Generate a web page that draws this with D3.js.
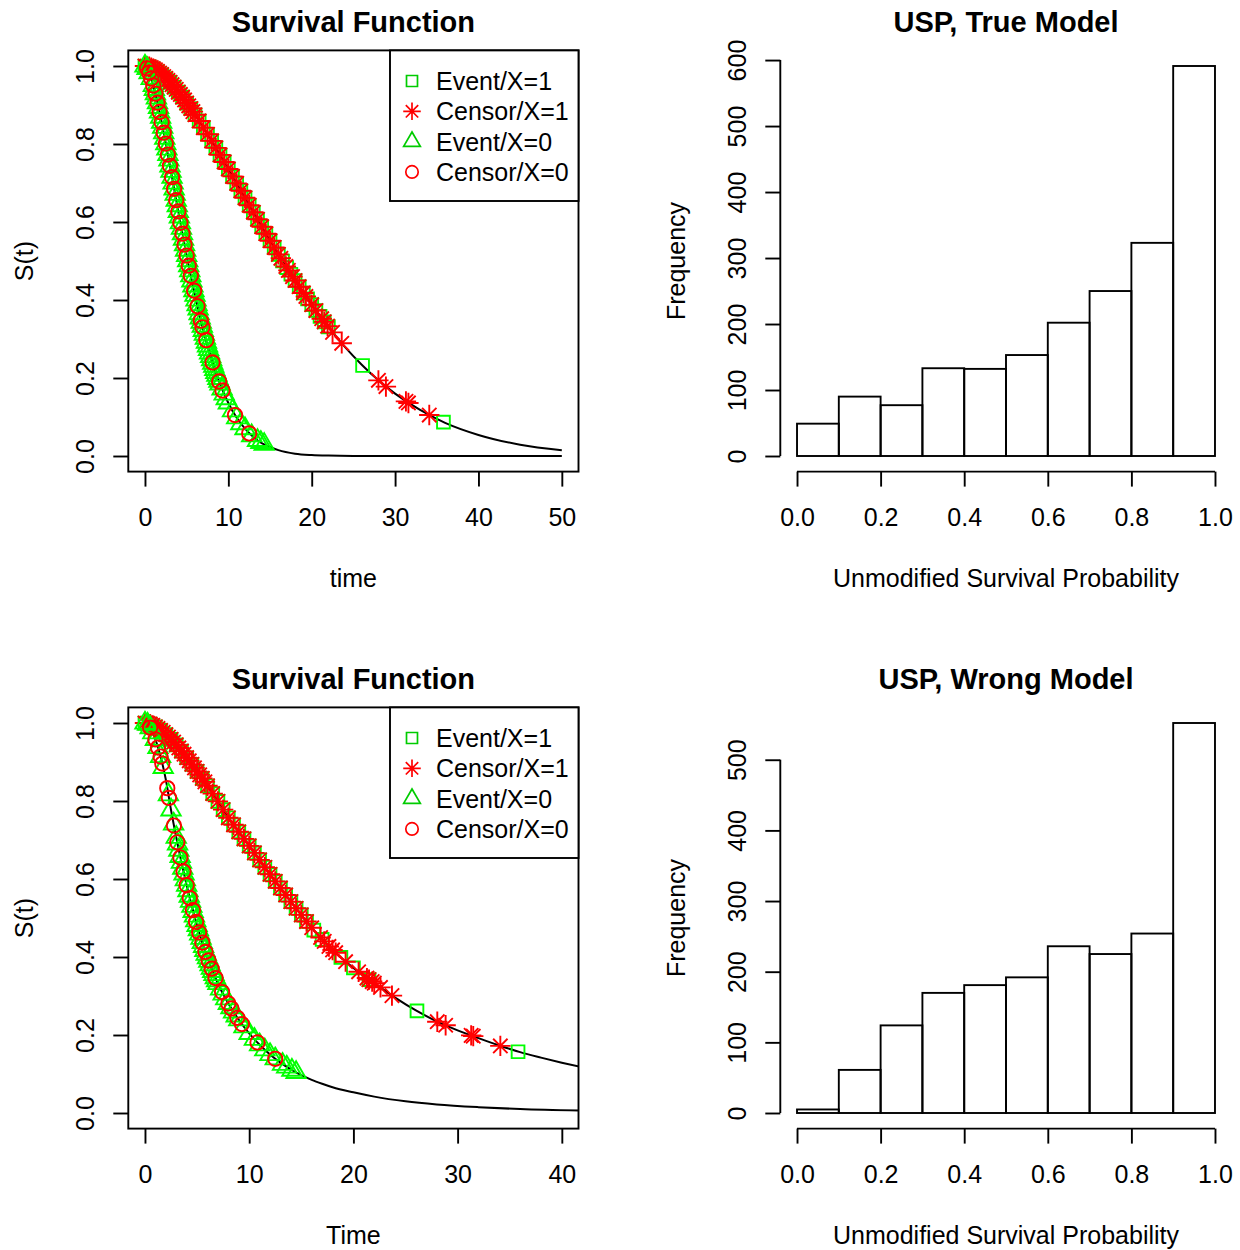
<!DOCTYPE html>
<html>
<head>
<meta charset="utf-8">
<script src="https://cdn.jsdelivr.net/npm/d3@7"></script>
<style>
  body { margin: 0; background: #fff; }
  svg { display: block; font-family: "Liberation Sans", Arial, sans-serif; }
</style>
</head>
<body>
<svg id="chart" width="1240" height="1250"></svg>
<script>
// ---- survival curves, [time, S(t)] ----
const curveTopX1 = [[0,1],[2,0.978],[4,0.933],[6,0.875],[8,0.808],[10,0.736],[12,0.662],[14,0.588],[16,0.517],[18,0.450],[20,0.388],[22,0.331],[24,0.279],[26,0.234],[28,0.194],[30,0.160],[33,0.118],[36,0.085],[40,0.054],[45,0.029],[50,0.015]];
const curveTopX0 = [[0,1],[0.5,0.983],[1,0.950],[1.5,0.906],[2,0.856],[2.5,0.801],[3,0.744],[3.5,0.685],[4,0.627],[5,0.514],[6,0.412],[7,0.322],[8,0.247],[9,0.185],[10,0.136],[11,0.098],[12,0.070],[13,0.049],[14,0.033],[15,0.023],[16,0.015],[18,0.006],[20,0.0025],[22,0.001],[25,0.0002],[30,0],[40,0],[50,0]];
const curveBotX1 = [[0,1],[1,0.990],[2,0.970],[3,0.944],[4,0.911],[5,0.876],[6,0.839],[7,0.799],[8,0.757],[9,0.721],[10,0.685],[11,0.649],[12,0.612],[13,0.577],[14,0.542],[15,0.508],[16,0.475],[17,0.445],[18,0.418],[19,0.394],[20,0.372],[22,0.333],[24,0.296],[26,0.263],[28,0.235],[30,0.212],[32,0.192],[34,0.173],[36,0.156],[38,0.142],[40,0.129],[42,0.117]];
const curveBotX0 = [[0,1],[0.5,0.988],[1,0.958],[1.5,0.914],[2,0.855],[2.5,0.777],[3,0.707],[3.5,0.643],[4,0.584],[4.5,0.530],[5,0.481],[5.5,0.437],[6,0.398],[6.5,0.363],[7,0.332],[7.5,0.305],[8,0.281],[9,0.239],[10,0.204],[11,0.175],[12,0.150],[13,0.129],[14,0.112],[15,0.097],[16,0.085],[17,0.075],[18,0.066],[20,0.053],[22,0.042],[25,0.030],[28,0.022],[32,0.015],[36,0.010],[42,0.006]];

// ---- observations, [time, S(time)] ----
const eventX1Top = [[0,1],[0.5,0.998],[1,0.993],[1.5,0.986],[2,0.978],[2.5,0.968],[3,0.958],[3.5,0.946],[4,0.933],[4.5,0.920],[5,0.905],[5.5,0.891],[6,0.875],[6.5,0.859],[7,0.842],[7.5,0.825],[8,0.808],[8.5,0.790],[9,0.772],[9.5,0.754],[10,0.736],[10.5,0.717],[11,0.699],[11.5,0.680],[12,0.662],[12.5,0.643],[13,0.625],[13.5,0.607],[14,0.588],[14.5,0.570],[15,0.552],[15.5,0.535],[16,0.517],[16.5,0.500],[17,0.483],[17.5,0.466],[18,0.450],[18.5,0.434],[19,0.418],[19.5,0.403],[20,0.388],[20.5,0.373],[21,0.358],[21.5,0.344],[22,0.331],[26.1,0.232],[35.8,0.087]];
const censorX1Top = [[0,1],[0.25,0.999],[0.5,0.998],[0.75,0.996],[1,0.993],[1.25,0.990],[1.5,0.986],[1.75,0.982],[2,0.978],[2.25,0.973],[2.5,0.968],[2.75,0.963],[3,0.958],[3.25,0.952],[3.5,0.946],[3.75,0.940],[4,0.933],[4.25,0.927],[4.5,0.920],[4.75,0.913],[5,0.905],[5.25,0.898],[5.5,0.891],[5.75,0.883],[6,0.875],[6.5,0.859],[7,0.842],[7.5,0.825],[8,0.808],[8.5,0.790],[9,0.772],[9.5,0.754],[10,0.736],[10.5,0.717],[11,0.699],[11.5,0.680],[12,0.662],[12.5,0.643],[13,0.625],[13.5,0.607],[14,0.588],[14.5,0.570],[15,0.552],[15.5,0.535],[16,0.517],[16.3,0.507],[16.9,0.486],[17.2,0.476],[17.7,0.460],[18.0,0.450],[18.5,0.434],[19.0,0.418],[19.3,0.409],[20.0,0.388],[20.5,0.373],[21.2,0.352],[21.5,0.344],[21.9,0.333],[22.5,0.317],[23.6,0.289],[28.0,0.194],[28.9,0.178],[31.3,0.140],[31.6,0.136],[34.1,0.105]];
const eventX0Top = [[0,1],[0.25,0.994],[0.5,0.983],[0.75,0.968],[1,0.950],[1.125,0.940],[1.25,0.929],[1.375,0.918],[1.5,0.906],[1.625,0.894],[1.75,0.882],[1.875,0.869],[2,0.856],[2.125,0.843],[2.25,0.829],[2.375,0.815],[2.5,0.801],[2.625,0.787],[2.75,0.773],[2.875,0.759],[3,0.744],[3.125,0.730],[3.25,0.715],[3.375,0.700],[3.5,0.685],[3.625,0.671],[3.75,0.656],[3.875,0.642],[4,0.627],[4.125,0.613],[4.25,0.598],[4.375,0.584],[4.5,0.570],[4.625,0.556],[4.75,0.542],[4.875,0.528],[5,0.514],[5.125,0.501],[5.25,0.488],[5.375,0.475],[5.5,0.462],[5.625,0.449],[5.75,0.436],[5.875,0.424],[6,0.412],[6.125,0.400],[6.25,0.388],[6.375,0.377],[6.5,0.365],[6.625,0.354],[6.75,0.343],[6.875,0.333],[7,0.322],[7.125,0.312],[7.25,0.302],[7.375,0.292],[7.5,0.282],[7.625,0.273],[7.75,0.264],[7.875,0.255],[8,0.247],[8.125,0.238],[8.25,0.230],[8.375,0.222],[8.5,0.214],[8.625,0.207],[8.75,0.199],[8.875,0.192],[9,0.185],[9.25,0.172],[9.5,0.159],[9.75,0.147],[10,0.136],[10.5,0.116],[11,0.098],[11.5,0.083],[12,0.070],[12.8,0.052],[13.5,0.040],[13.9,0.035],[14.3,0.030]];
const censorX0Top = [[0.25,0.994],[0.5,0.983],[0.75,0.968],[1,0.950],[1.25,0.929],[1.5,0.906],[1.75,0.882],[2,0.856],[2.25,0.829],[2.5,0.801],[2.75,0.773],[3,0.744],[3.25,0.715],[3.5,0.685],[3.75,0.656],[4,0.627],[4.25,0.598],[4.5,0.570],[4.75,0.542],[5,0.514],[5.25,0.488],[5.5,0.462],[5.9,0.424],[6.3,0.384],[6.7,0.347],[6.9,0.330],[7.35,0.297],[8.1,0.240],[8.9,0.191],[9.3,0.168],[10.8,0.105],[12.5,0.058]];

const eventX1Bot = [[0,1],[0.5,0.997],[1,0.990],[1.5,0.981],[2,0.970],[2.5,0.958],[3,0.944],[3.5,0.928],[4,0.911],[4.5,0.894],[5,0.876],[5.5,0.858],[6,0.839],[6.5,0.819],[7,0.799],[7.5,0.778],[8,0.757],[8.5,0.739],[9,0.721],[9.5,0.703],[10,0.685],[10.5,0.667],[11,0.649],[11.5,0.630],[12,0.612],[12.5,0.594],[13,0.577],[13.5,0.559],[14,0.542],[14.5,0.525],[15,0.508],[15.5,0.491],[16.2,0.469],[17,0.445],[18.8,0.399],[20,0.372],[21.5,0.342],[26.1,0.262],[35.8,0.157]];
const censorX1Bot = [[0,1],[0.25,0.999],[0.5,0.997],[0.75,0.994],[1,0.990],[1.25,0.986],[1.5,0.981],[1.75,0.976],[2,0.970],[2.25,0.964],[2.5,0.958],[2.75,0.951],[3,0.944],[3.25,0.936],[3.5,0.928],[3.75,0.920],[4,0.911],[4.25,0.903],[4.5,0.894],[4.75,0.885],[5,0.876],[5.25,0.867],[5.5,0.858],[5.75,0.849],[6,0.839],[6.5,0.819],[7,0.799],[7.5,0.778],[8,0.757],[8.5,0.739],[9,0.721],[9.5,0.703],[10,0.685],[10.5,0.667],[11,0.649],[11.5,0.630],[12,0.612],[12.5,0.594],[13,0.577],[13.5,0.559],[14,0.542],[14.5,0.525],[15,0.508],[15.5,0.491],[16,0.475],[16.85,0.450],[17.2,0.440],[17.65,0.427],[18.0,0.418],[18.3,0.411],[19.25,0.388],[20.5,0.362],[21.3,0.346],[21.5,0.342],[21.8,0.337],[22.0,0.333],[22.6,0.322],[23.7,0.301],[28.05,0.234],[28.85,0.225],[31.3,0.199],[31.5,0.197],[34.1,0.172]];
const eventX0Bot = [[0,1],[0.25,0.997],[0.5,0.988],[0.75,0.975],[1,0.958],[1.25,0.937],[1.5,0.914],[1.75,0.886],[2.25,0.816],[2.5,0.777],[2.75,0.741],[3,0.707],[3.125,0.690],[3.25,0.674],[3.375,0.658],[3.5,0.643],[3.625,0.628],[3.75,0.613],[3.875,0.598],[4,0.584],[4.125,0.570],[4.25,0.556],[4.375,0.543],[4.5,0.530],[4.625,0.517],[4.75,0.505],[4.875,0.493],[5,0.481],[5.125,0.470],[5.25,0.459],[5.375,0.448],[5.5,0.437],[5.625,0.427],[5.75,0.417],[5.875,0.407],[6,0.398],[6.125,0.389],[6.25,0.380],[6.375,0.371],[6.5,0.363],[6.625,0.355],[6.75,0.347],[6.875,0.339],[7,0.332],[7.25,0.318],[7.5,0.305],[7.75,0.293],[8,0.281],[8.25,0.270],[8.5,0.259],[8.75,0.249],[9,0.239],[9.5,0.221],[10,0.204],[10.5,0.189],[11,0.175],[11.5,0.162],[12,0.150],[12.5,0.139],[13.2,0.125],[13.6,0.118],[14.1,0.110],[14.5,0.104]];
const censorX0Bot = [[0.5,0.988],[1.0,0.958],[1.25,0.937],[1.5,0.914],[1.66,0.896],[2.14,0.833],[2.3,0.808],[2.78,0.737],[3.1,0.694],[3.4,0.655],[3.7,0.619],[4.0,0.584],[4.3,0.551],[4.6,0.520],[4.9,0.490],[5.2,0.463],[5.5,0.437],[5.8,0.413],[6.1,0.391],[6.4,0.370],[6.77,0.346],[7.4,0.310],[8.0,0.281],[8.3,0.268],[8.86,0.244],[9.3,0.228],[10.8,0.181],[12.5,0.139]];

// ---- histograms of unmodified survival probability ----
const binStarts = [0, 0.1, 0.2, 0.3, 0.4, 0.5, 0.6, 0.7, 0.8, 0.9];
const countsTrue = [49, 90, 77, 133, 132, 153, 202, 250, 323, 591];
const countsWrong = [5, 61, 124, 170, 181, 192, 236, 225, 254, 552];

const survTicksY = [0, 0.2, 0.4, 0.6, 0.8, 1.0];
const histTicksX = [0, 0.2, 0.4, 0.6, 0.8, 1.0];
const legendLabels = ["Event/X=1", "Censor/X=1", "Event/X=0", "Censor/X=0"];

const svg = d3.select("#chart");
const LW = 1.9;
const ROW_SHIFT = 657;
const PLOT_TOP = 50.4, PLOT_BOTTOM = 471.6;
const PT = 7.2;

function symbolPath(type, u) {
    if (type === "square") {
        const h = u * 0.886;
        return `M${-h},${-h}H${h}V${h}H${-h}Z`;
    }
    if (type === "triangle") {
        const r = 1.555 * u, xc = 1.347 * u, yc = 0.778 * u;
        return `M0,${-r}L${xc},${yc}L${-xc},${yc}Z`;
    }
    if (type === "star") {
        const p = u * Math.SQRT2;
        return `M${-u},${-u}L${u},${u}M${-u},${u}L${u},${-u}M${-p},0L${p},0M0,${-p}L0,${p}`;
    }
    return `M${u},0A${u},${u} 0 1,1 ${-u},0A${u},${u} 0 1,1 ${u},0Z`;
}

function styleAxis(g) {
    g.attr("font-size", 25)
        .attr("font-family", '"Liberation Sans", Arial, sans-serif');
    g.selectAll("line").attr("stroke", "#000").attr("stroke-width", LW);
    g.selectAll("text").attr("fill", "#000");
}

function rotateYLabels(g) {
    g.selectAll("text")
        .attr("transform", "rotate(-90)")
        .attr("x", 0)
        .attr("y", -34.3)
        .attr("dy", null)
        .attr("text-anchor", "middle");
}

function drawSurvival(idx, cfg) {
    const dy = idx * ROW_SHIFT;
    const left = 128.3, right = 578.5;
    const top = PLOT_TOP + dy, bottom = PLOT_BOTTOM + dy;
    const xMax = cfg.xTicks[cfg.xTicks.length - 1];

    const sx = d3.scaleLinear().domain([-0.04 * xMax, 1.04 * xMax]).range([left, right]);
    const sy = d3.scaleLinear().domain([-0.04, 1.04]).range([bottom, top]);

    const clipId = "clip-surv-" + idx;
    svg.append("clipPath").attr("id", clipId)
        .append("rect")
        .attr("x", left).attr("y", top)
        .attr("width", right - left).attr("height", bottom - top);

    const plot = svg.append("g").attr("clip-path", `url(#${clipId})`);

    const line = d3.line()
        .x(d => sx(d[0]))
        .y(d => sy(d[1]))
        .curve(d3.curveMonotoneX);

    [cfg.curveX1, cfg.curveX0].forEach(c => {
        plot.append("path")
            .datum(c)
            .attr("fill", "none")
            .attr("stroke", "#000")
            .attr("stroke-width", 2)
            .attr("d", line);
    });

    const series = [
        { data: cfg.evX1, type: "square", color: "#00ff00" },
        { data: cfg.ceX1, type: "star", color: "#ff0000" },
        { data: cfg.evX0, type: "triangle", color: "#00ff00" },
        { data: cfg.ceX0, type: "circle", color: "#ff0000" }
    ];

    series.forEach(s => {
        plot.append("g")
            .selectAll("path")
            .data(s.data)
            .enter()
            .append("path")
            .attr("transform", d => `translate(${sx(d[0])},${sy(d[1])})`)
            .attr("d", symbolPath(s.type, PT))
            .attr("fill", "none")
            .attr("stroke", s.color)
            .attr("stroke-width", 1.9);
    });

    // axes
    const gx = svg.append("g")
        .attr("transform", `translate(0,${bottom})`)
        .call(d3.axisBottom(sx).tickValues(cfg.xTicks).tickSize(15).tickSizeOuter(0).tickPadding(22).tickFormat(d3.format("d")));
    gx.select(".domain").remove();
    styleAxis(gx);

    const gy = svg.append("g")
        .attr("transform", `translate(${left},0)`)
        .call(d3.axisLeft(sy).tickValues(survTicksY).tickSize(15).tickSizeOuter(0).tickFormat(d3.format(".1f")));
    gy.select(".domain").remove();
    styleAxis(gy);
    rotateYLabels(gy);

    svg.append("rect")
        .attr("x", left).attr("y", top)
        .attr("width", right - left).attr("height", bottom - top)
        .attr("fill", "none").attr("stroke", "#000").attr("stroke-width", LW);

    // titles
    const cx = (left + right) / 2;
    svg.append("text")
        .attr("x", cx).attr("y", 32 + dy)
        .attr("text-anchor", "middle")
        .attr("font-size", 29).attr("font-weight", "bold")
        .text(cfg.title);
    svg.append("text")
        .attr("x", cx).attr("y", 587 + dy)
        .attr("text-anchor", "middle")
        .attr("font-size", 25)
        .text(cfg.xLabel);
    svg.append("text")
        .attr("transform", `translate(33,${(top + bottom) / 2}) rotate(-90)`)
        .attr("text-anchor", "middle")
        .attr("font-size", 25)
        .text("S(t)");

    // legend
    const legW = 188.5, legH = 150.6;
    const leg = svg.append("g").attr("transform", `translate(${right - legW},${top})`);
    leg.append("rect")
        .attr("width", legW).attr("height", legH)
        .attr("fill", "#fff").attr("stroke", "#000").attr("stroke-width", LW);
    const legTypes = ["square", "star", "triangle", "circle"];
    const legColors = ["#00cc00", "#ff0000", "#00cc00", "#ff0000"];
    legendLabels.forEach((lab, i) => {
        const yy = 30.6 + i * 30.3;
        leg.append("path")
            .attr("transform", `translate(22,${yy})`)
            .attr("d", symbolPath(legTypes[i], 6.2))
            .attr("fill", "none")
            .attr("stroke", legColors[i])
            .attr("stroke-width", 1.7);
        leg.append("text")
            .attr("x", 46).attr("y", yy + 9)
            .attr("font-size", 25)
            .text(lab);
    });
}

function drawHistogram(idx, counts, title) {
    const dy = idx * ROW_SHIFT;
    const left = 780.3, right = 1231.7;
    const top = PLOT_TOP + dy, bottom = PLOT_BOTTOM + dy;
    const maxCount = d3.max(counts);

    const sx = d3.scaleLinear().domain([-0.04, 1.04]).range([left, right]);
    const sy = d3.scaleLinear().domain([-0.04 * maxCount, 1.04 * maxCount]).range([bottom, top]);

    svg.append("g")
        .selectAll("rect")
        .data(binStarts)
        .enter()
        .append("rect")
        .attr("x", d => sx(d))
        .attr("y", (d, i) => sy(counts[i]))
        .attr("width", d => sx(d + 0.1) - sx(d))
        .attr("height", (d, i) => sy(0) - sy(counts[i]))
        .attr("fill", "none")
        .attr("stroke", "#000")
        .attr("stroke-width", LW);

    // R keeps every pretty tick that fits inside the extended range
    const yTicks = d3.range(0, 1.04 * maxCount, 100);

    const gx = svg.append("g")
        .attr("transform", `translate(0,${bottom})`)
        .call(d3.axisBottom(sx).tickValues(histTicksX).tickSize(15).tickSizeOuter(0).tickPadding(22).tickFormat(d3.format(".1f")));
    gx.select(".domain").remove();
    gx.append("line")
        .attr("x1", sx(0)).attr("x2", sx(1))
        .attr("y1", 0).attr("y2", 0);
    styleAxis(gx);

    const gy = svg.append("g")
        .attr("transform", `translate(${left},0)`)
        .call(d3.axisLeft(sy).tickValues(yTicks).tickSize(15).tickSizeOuter(0).tickFormat(d3.format("d")));
    gy.select(".domain").remove();
    gy.append("line")
        .attr("x1", 0).attr("x2", 0)
        .attr("y1", sy(0)).attr("y2", sy(yTicks[yTicks.length - 1]));
    styleAxis(gy);
    rotateYLabels(gy);

    const cx = (left + right) / 2;
    svg.append("text")
        .attr("x", cx).attr("y", 32 + dy)
        .attr("text-anchor", "middle")
        .attr("font-size", 29).attr("font-weight", "bold")
        .text(title);
    svg.append("text")
        .attr("x", cx).attr("y", 587 + dy)
        .attr("text-anchor", "middle")
        .attr("font-size", 25)
        .text("Unmodified Survival Probability");
    svg.append("text")
        .attr("transform", `translate(685,${(top + bottom) / 2}) rotate(-90)`)
        .attr("text-anchor", "middle")
        .attr("font-size", 25)
        .text("Frequency");
}

drawSurvival(0, {
    title: "Survival Function", xLabel: "time", xTicks: [0, 10, 20, 30, 40, 50],
    curveX1: curveTopX1, curveX0: curveTopX0,
    evX1: eventX1Top, ceX1: censorX1Top, evX0: eventX0Top, ceX0: censorX0Top
});
drawSurvival(1, {
    title: "Survival Function", xLabel: "Time", xTicks: [0, 10, 20, 30, 40],
    curveX1: curveBotX1, curveX0: curveBotX0,
    evX1: eventX1Bot, ceX1: censorX1Bot, evX0: eventX0Bot, ceX0: censorX0Bot
});
drawHistogram(0, countsTrue, "USP, True Model");
drawHistogram(1, countsWrong, "USP, Wrong Model");
</script>
</body>
</html>
